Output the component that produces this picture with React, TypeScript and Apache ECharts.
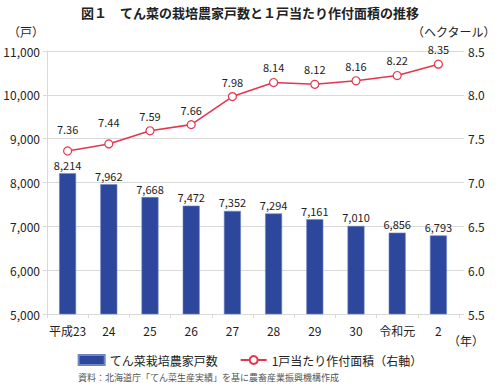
import React, { useEffect, useRef } from "react";
import * as echarts from "echarts";

const categories = ["平成23", "24", "25", "26", "27", "28", "29", "30", "令和元", "2"];
const households = [8214, 7962, 7668, 7472, 7352, 7294, 7161, 7010, 6856, 6793];
const areaPerHousehold = [7.36, 7.44, 7.59, 7.66, 7.98, 8.14, 8.12, 8.16, 8.22, 8.35];

const FONT = "'Noto Sans CJK JP', 'Noto Sans', sans-serif";
const BAR = "#2d479c";
const LINE = "#e4364f";
const GRID = "#d9d9d9";

export default function App() {
  const ref = useRef<HTMLDivElement>(null);
  useEffect(() => {
    const chart = echarts.init(ref.current!, null, { renderer: "svg" });
    chart.setOption({
      animation: false,
      backgroundColor: "#ffffff",
      textStyle: { fontFamily: FONT },
      title: {
        text: "図１　てん菜の栽培農家戸数と１戸当たり作付面積の推移",
        left: "center",
        top: 1,
        textStyle: { fontSize: 13, fontWeight: "bold", color: "#222", fontFamily: FONT },
      },
      grid: { left: 47, right: 41, top: 51, bottom: 74 },
      legend: {
        bottom: 17,
        left: "center",
        itemGap: 22,
        itemWidth: 26,
        itemHeight: 10,
        textStyle: { fontSize: 12, color: "#222", fontFamily: FONT },
        data: [
          { name: "てん菜栽培農家戸数", icon: "rect" },
          { name: "1戸当たり作付面積（右軸）" },
        ],
      },
      xAxis: {
        type: "category",
        data: categories,
        axisLine: { show: true, lineStyle: { color: GRID } },
        axisTick: { show: true, length: 4, lineStyle: { color: GRID } },
        axisLabel: { interval: 0, fontSize: 12, color: "#222", margin: 10, fontFamily: FONT },
      },
      yAxis: [
        {
          type: "value",
          min: 5000,
          max: 11000,
          interval: 1000,
          axisLine: { show: true, lineStyle: { color: GRID } },
          axisTick: { show: true, length: 4, lineStyle: { color: GRID } },
          axisLabel: {
            fontSize: 12,
            color: "#222",
            margin: 7,
            formatter: (v: number) => v.toLocaleString("en-US"),
          },
          splitLine: { show: true, lineStyle: { color: GRID } },
        },
        {
          type: "value",
          min: 5.5,
          max: 8.5,
          interval: 0.5,
          axisLine: { show: false },
          axisTick: { show: true, length: 5, lineStyle: { color: GRID } },
          axisLabel: {
            fontSize: 12,
            color: "#222",
            margin: 9,
            formatter: (v: number) => v.toFixed(1),
          },
          splitLine: { show: false },
        },
      ],
      graphic: [
        {
          type: "text",
          left: 8,
          top: 25,
          style: { text: "（戸）", fill: "#222", font: `12px ${FONT}` },
        },
        {
          type: "text",
          right: 4,
          top: 25,
          style: { text: "（ヘクタール）", fill: "#222", font: `12px ${FONT}` },
        },
        {
          type: "text",
          right: 16,
          top: 334,
          style: { text: "（年）", fill: "#222", font: `12px ${FONT}` },
        },
        {
          type: "text",
          left: 78,
          top: 373,
          style: { text: "資料：北海道庁「てん菜生産実績」を基に農畜産業振興機構作成", fill: "#555", font: `9px ${FONT}` },
        },
      ],
      series: [
        {
          name: "てん菜栽培農家戸数",
          type: "bar",
          yAxisIndex: 0,
          data: households,
          barWidth: 17,
          itemStyle: { color: BAR, borderColor: "#6f86c4", borderWidth: 0.6 },
          label: {
            show: true,
            position: "top",
            distance: 3,
            fontSize: 11,
            color: "#222",
            formatter: (p: any) => Number(p.value).toLocaleString("en-US"),
          },
        },
        {
          name: "1戸当たり作付面積（右軸）",
          type: "line",
          yAxisIndex: 1,
          data: areaPerHousehold.map((v, i) =>
            i < 2 ? { value: v, label: { distance: 12 } } : v
          ),
          symbol: "circle",
          symbolSize: 8,
          lineStyle: { color: LINE, width: 1.6 },
          itemStyle: { color: "#ffffff", borderColor: LINE, borderWidth: 1.2 },
          label: {
            show: true,
            position: "top",
            distance: 5,
            fontSize: 11,
            color: "#222",
            formatter: (p: any) => Number(p.value).toFixed(2),
          },
        },
      ],
    });
    return () => chart.dispose();
  }, []);
  return <div ref={ref} style={{ width: 500, height: 388, position: "absolute", left: 0, top: 0 }} />;
}
